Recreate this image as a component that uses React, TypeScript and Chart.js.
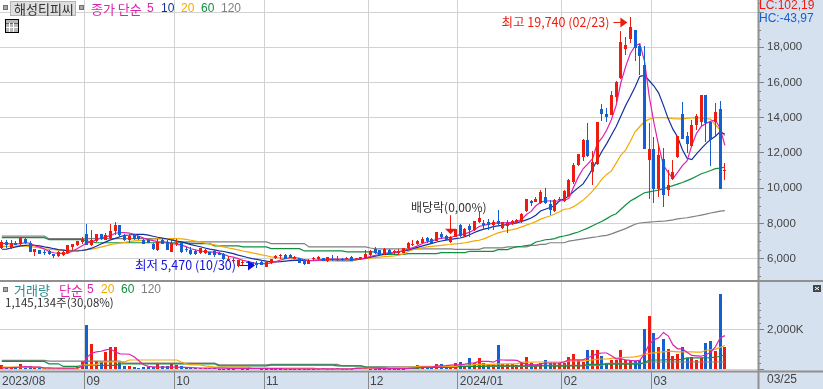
import React, { useEffect, useRef } from "react";
import { Chart, registerables } from "chart.js";

Chart.register(...registerables);

const opens = [
  6620,6940,6620,6900,6850,7130,6910,6380,6470,6380,
  6430,6240,6150,6190,6320,6660,6750,6940,7420,6750,
  7000,7380,7080,7190,7570,7890,7360,7040,7320,7270,
  7040,7040,6850,6470,7080,6940,6380,6850,6890,6570,
  6510,6430,6320,6320,6380,6430,6320,6280,5980,5850,
  5560,5800,5810,5800,5760,5810,5520,5750,6040,6130,
  6220,6220,5990,6020,5940,5710,5990,5960,6020,5850,
  6000,6000,6000,6000,6090,6000,6000,6040,6190,6570,
  6470,6250,6510,6380,6340,6340,6600,6790,6810,6890,
  7170,7130,6980,7420,7270,6930,7230,7890,7270,7830,
  7610,8080,8040,8080,7930,8140,7760,7850,7950,8040,
  8080,8700,9250,9220,9150,9500,9120,8700,9310,9270,
  9540,10350,11300,11770,12760,10920,11350,14520,14200,14140,
  15180,16280,17930,18490,18970,18060,16980,11620,12250,9940,
  11680,9880,10540,11770,14230,12960,12380,13570,13760,15280,
  13760,13760,14520,10980,
];
const highs = [
  7080,7040,7040,7000,7230,7190,7000,6570,6510,6470,
  6510,6280,6430,6430,6750,6850,7000,7230,7950,7640,
  7420,7420,7460,7990,8060,7890,7420,7420,7420,7300,
  7130,7100,6890,7130,7130,7080,7130,7130,6940,6660,
  6660,6500,6600,6570,6400,6470,6350,6320,6150,6020,
  5900,5900,5850,5810,5880,5900,5810,6000,6180,6240,
  6260,6240,6150,6040,6000,5950,6090,6150,6060,6090,
  6190,6130,6040,6100,6130,6040,6110,6470,6510,6660,
  6500,6620,6560,6470,6570,6620,6940,7040,7080,7230,
  7210,7180,7490,7510,7340,7270,7700,7990,7760,7990,
  8150,8650,8170,8270,8170,8750,8080,8210,8210,8250,
  8600,9410,9350,9500,9880,10010,9310,9400,9500,9880,
  10540,11430,11960,12810,13700,12110,13760,14760,14570,15520,
  16090,18930,18590,19740,18970,18210,18060,13700,12910,12530,
  12300,11010,11580,12950,14900,13190,13850,14230,15300,15300,
  13820,14840,14950,11450,
];
const lows = [
  6570,6620,6570,6750,6750,6850,6380,6130,6240,6190,
  6190,6050,6090,6130,6280,6470,6700,6850,6750,6720,
  6940,7040,7040,7130,7320,7230,7000,6910,7040,7040,
  6850,6890,6470,6420,6810,6470,6380,6700,6340,6380,
  6220,6200,6280,6280,6180,6090,6180,5940,5850,5800,
  5520,5560,5750,5580,5470,5610,5500,5700,6000,6000,
  5990,6030,5960,5770,5620,5690,5850,5900,5850,5830,
  5850,5850,5880,5950,5850,5960,5970,6000,6150,6250,
  6230,6190,6280,6250,6230,6300,6550,6700,6750,6810,
  6890,6910,6980,7130,7040,6910,7200,7230,7230,7250,
  7570,8040,7700,7650,7610,7890,7700,7460,7890,8000,
  8040,8650,8970,9200,9100,9120,8460,8650,9220,9220,
  9500,10260,11260,11550,11770,10160,11300,13820,13760,14140,
  14900,16220,17550,18250,17230,16410,12250,9370,9160,9500,
  8930,9540,10480,11730,12810,12000,12350,13300,13550,12620,
  11240,12950,9940,10450,
];
const closes = [
  6940,6750,6890,6750,7190,6910,6380,6570,6280,6320,
  6240,6130,6380,6380,6750,6850,7000,7130,6750,7080,
  7380,7130,7320,7570,7890,7320,7040,7270,7130,7130,
  6850,6890,6550,6940,6850,6510,6890,6890,6380,6470,
  6280,6240,6600,6510,6190,6190,6190,6000,6000,5900,
  5900,5810,5780,5580,5650,5660,5810,6000,6150,6190,
  5990,6030,6090,5770,5680,5900,6040,6070,5850,6070,
  5900,5920,5900,6040,5850,6020,6090,6280,6420,6320,
  6230,6530,6280,6420,6430,6620,6890,6850,7000,7110,
  6980,6910,7490,7230,7040,7230,7700,7270,7700,7600,
  8120,8310,7890,7890,8080,7990,8080,8040,8140,8170,
  8550,9410,9160,9410,9780,9160,8740,9350,9400,9840,
  10450,11300,11920,12720,11810,11490,13740,14230,14050,15280,
  16030,18300,18110,19160,17980,17490,12250,12250,9940,11870,
  9600,10160,10920,12950,12810,12530,13570,14080,15280,13700,
  12720,14330,9940,11050,
];
const volumes = [
  250,100,100,100,300,100,200,100,100,85,
  85,85,85,85,85,100,130,420,2220,1310,
  420,420,870,1160,1160,370,200,200,150,100,
  130,130,130,300,170,170,300,250,200,130,
  130,100,85,80,70,70,60,60,60,60,
  70,60,50,70,80,60,60,60,50,50,
  50,50,50,50,50,50,40,40,70,30,
  30,70,30,30,40,85,85,140,60,50,
  50,50,50,50,60,60,130,130,250,100,
  85,85,300,300,100,200,340,400,200,600,
  340,600,340,300,300,1260,300,300,300,250,
  340,640,340,250,340,470,340,340,340,340,
  640,810,500,370,1010,1010,1010,710,340,500,
  470,1010,470,470,420,470,2020,2690,1860,1160,
  1560,1060,710,810,1160,590,640,500,590,1360,
  1460,960,3780,1145,
];
const ma5 = [
  6860,6850,6840,6830,6850,6900,6870,6730,6650,6540,
  6400,6330,6290,6290,6310,6430,6570,6730,6880,6950,
  7060,7180,7230,7300,7440,7470,7470,7450,7380,7270,
  7160,7080,7020,6960,6950,6930,6850,6820,6760,6680,
  6560,6490,6430,6400,6380,6350,6320,6240,6130,6080,
  6000,5900,5850,5770,5730,5710,5710,5760,5830,5920,
  6000,6050,6060,6020,5930,5880,5880,5900,5940,5970,
  5980,5970,5970,5970,5960,5950,5990,6040,6120,6180,
  6230,6300,6340,6350,6380,6450,6540,6620,6720,6860,
  6950,7000,7090,7160,7180,7200,7290,7360,7400,7500,
  7640,7820,7890,7960,8010,8010,8020,8040,8060,8100,
  8220,8500,8680,9000,9200,9280,9270,9260,9270,9300,
  9430,10060,10640,11100,11380,11670,12530,12850,13300,13900,
  14700,16000,16900,17650,18080,18210,17200,15200,13700,12400,
  11300,10900,10530,10900,11280,11550,12430,13120,13500,13680,
  13800,13880,13400,12430,
];
const ma10 = [
  6530,6540,6600,6660,6720,6750,6770,6750,6720,6660,
  6620,6560,6510,6480,6440,6430,6430,6460,6510,6590,
  6700,6830,6950,7060,7150,7240,7320,7340,7370,7380,
  7370,7330,7270,7210,7160,7110,7050,7000,6950,6880,
  6790,6730,6670,6600,6540,6490,6440,6400,6340,6280,
  6200,6130,6060,6000,5950,5900,5850,5810,5810,5830,
  5860,5880,5900,5900,5890,5890,5900,5920,5930,5940,
  5940,5930,5920,5920,5920,5940,5980,6020,6080,6140,
  6190,6240,6290,6340,6380,6430,6480,6580,6640,6720,
  6790,6860,6940,7000,7050,7090,7130,7170,7250,7350,
  7480,7590,7670,7730,7810,7860,7890,7940,7980,8030,
  8110,8200,8300,8460,8700,8800,8900,9000,9280,9400,
  9560,9800,10030,10240,10650,11100,11600,12100,12530,13020,
  13500,14100,14700,15200,15750,16350,16400,16100,15800,15400,
  14700,13950,13350,12910,12200,11700,11620,11950,12250,12530,
  12760,12950,13200,13060,
];
const ma20 = [
  6680,6690,6700,6710,6720,6700,6680,6650,6600,6550,
  6520,6500,6480,6470,6470,6470,6470,6480,6510,6540,
  6590,6650,6720,6790,6840,6880,6920,6960,7000,7020,
  7040,7070,7100,7120,7130,7140,7140,7130,7120,7090,
  7040,6990,6940,6880,6830,6780,6720,6660,6600,6550,
  6490,6430,6380,6320,6270,6210,6160,6100,6050,6040,
  6010,5990,5970,5950,5930,5910,5900,5890,5880,5870,
  5870,5860,5860,5860,5860,5920,5960,5990,6020,6050,
  6080,6110,6130,6150,6190,6260,6400,6500,6560,6620,
  6660,6690,6720,6750,6780,6800,6830,6860,6900,6950,
  7000,7040,7120,7230,7350,7460,7530,7590,7640,7700,
  7800,7900,7990,8100,8240,8330,8420,8530,8660,8800,
  8830,8950,9130,9320,9560,9830,10150,10530,10780,10980,
  11420,11880,12160,12660,13200,13500,13780,13920,14000,14010,
  14010,13990,13950,13930,13930,13960,13990,14010,13980,13950,
  13920,13600,13300,12980,
];
const ma60 = [
  7190,7190,7190,7190,7190,7190,7190,7190,7190,7190,
  7080,7080,7080,7080,7080,7080,7080,7080,7000,6950,
  6900,6900,6900,6900,6900,6900,6900,6900,6900,6900,
  6900,6900,6900,6900,6900,6900,6900,6900,6900,6900,
  6850,6850,6850,6850,6850,6720,6720,6720,6720,6720,
  6720,6660,6660,6660,6660,6660,6660,6565,6565,6565,
  6565,6565,6565,6565,6433,6433,6433,6433,6433,6433,
  6433,6433,6433,6376,6376,6376,6376,6376,6376,6376,
  6243,6243,6243,6243,6243,6243,6281,6281,6281,6281,
  6281,6281,6281,6338,6338,6338,6338,6338,6338,6414,
  6414,6414,6414,6414,6414,6508,6508,6508,6600,6680,
  6700,6740,6780,6944,7000,7070,7090,7130,7230,7280,
  7350,7430,7510,7620,7730,7860,7990,8120,8270,8430,
  8550,8800,9040,9270,9420,9580,9740,9790,9840,9890,
  9970,10050,10140,10230,10320,10430,10540,10680,10820,10900,
  11000,11110,11140,11200,
];
const ma120 = [
  7270,7270,7270,7270,7270,7270,7270,7270,7270,7270,
  7130,7130,7130,7130,7130,7130,7130,7130,7130,7130,
  7130,7130,7130,7130,7130,7130,7130,7130,7130,7130,
  7130,7130,7130,7130,7130,7130,7130,6944,6944,6944,
  6944,6944,6944,6944,6944,6944,6944,6944,6944,6944,
  6944,6944,6944,6944,6944,6944,6944,6849,6849,6849,
  6849,6849,6849,6849,6849,6660,6660,6660,6660,6660,
  6660,6660,6660,6660,6660,6660,6660,6660,6600,6550,
  6550,6550,6550,6550,6550,6550,6550,6550,6550,6550,
  6550,6550,6550,6550,6550,6550,6527,6527,6527,6527,
  6527,6527,6610,6610,6610,6610,6610,6660,6660,6660,
  6660,6660,6750,6750,6810,6810,6900,6900,6900,6900,
  6990,7030,7077,7120,7160,7200,7240,7290,7320,7400,
  7500,7600,7700,7830,7950,8020,8050,8070,8090,8110,
  8120,8160,8200,8250,8290,8320,8370,8420,8470,8520,
  8590,8640,8690,8720,
];
const vma5 = [
  100,100,110,120,130,160,150,130,130,100,
  100,90,85,85,85,85,90,170,620,830,
  900,930,1000,1040,900,800,790,780,650,450,
  250,170,150,130,130,130,130,130,120,120,
  110,100,90,85,85,85,85,85,70,70,
  70,70,70,70,70,70,70,60,60,55,
  50,50,50,50,50,50,50,50,50,50,
  45,45,50,50,50,70,80,90,90,85,
  70,60,55,55,55,60,70,90,110,130,
  140,140,180,200,210,230,250,250,280,330,
  350,420,420,420,380,500,490,480,480,470,
  350,270,260,250,300,340,340,340,340,400,
  500,500,500,500,600,700,810,840,840,700,
  550,550,500,470,450,470,800,1280,1500,1600,
  1870,1700,1250,1050,1050,880,720,700,680,750,
  880,1150,1600,1710,
];
const vma20 = [
  130,130,130,130,130,130,130,130,130,50,
  50,50,50,50,50,50,50,250,250,250,
  250,400,400,400,400,400,400,490,490,490,
  490,490,490,490,490,490,490,490,390,300,
  250,250,250,200,170,130,130,130,130,130,
  130,130,130,70,70,70,70,85,85,85,
  85,85,85,85,85,85,85,40,40,40,
  40,40,40,40,40,85,85,85,85,85,
  85,85,85,85,120,120,120,120,170,170,
  170,170,170,170,170,170,170,230,230,230,
  270,270,270,270,270,300,300,300,300,300,
  380,380,380,390,390,390,390,390,390,390,
  450,450,450,450,470,500,520,540,540,570,
  590,610,620,630,650,700,770,820,850,880,
  900,920,920,900,900,900,900,880,880,980,
  1000,1020,1120,1230,
];
const vma60 = [
  420,420,420,420,420,420,420,420,420,420,
  300,300,300,170,170,170,170,220,220,220,
  220,220,220,220,220,300,300,300,300,300,
  300,300,300,300,300,300,300,300,300,300,
  300,300,300,300,300,300,200,200,200,200,
  200,200,200,200,200,200,200,235,235,235,
  235,235,235,235,235,235,235,235,235,235,
  235,200,200,200,200,200,200,120,120,120,
  120,120,70,70,70,70,70,70,70,120,
  120,120,120,120,120,120,120,170,170,170,
  170,170,170,200,200,200,200,200,200,200,
  200,200,200,200,200,200,200,185,185,185,
  200,200,200,200,270,270,270,285,285,285,
  285,285,285,285,285,285,360,490,490,490,
  490,510,510,510,510,600,600,600,600,600,
  610,630,680,740,
];
const vma120 = [
  470,470,470,470,470,470,470,470,470,470,
  435,435,435,435,435,435,435,435,435,435,
  435,435,435,435,435,435,335,335,335,335,
  335,335,335,335,335,335,335,335,335,335,
  335,335,335,335,335,335,250,250,250,250,
  250,250,250,250,250,250,250,270,270,270,
  270,270,270,270,270,270,270,270,270,270,
  270,270,200,200,200,200,200,150,150,150,
  150,150,150,150,150,150,150,150,150,150,
  150,150,150,150,150,150,150,170,170,170,
  170,170,170,170,170,170,170,170,170,170,
  170,170,170,170,220,220,220,220,220,220,
  220,220,220,220,220,220,220,220,320,320,
  320,320,320,320,320,320,320,390,390,390,
  390,390,390,390,390,390,390,390,390,390,
  390,390,390,390,
];

const monthTickIndex = [-0.38, 17.5, 36.5, 55.5, 77.5, 96.5, 118.5, 137.5];
const monthTickLabels = ["2023/08", "09", "10", "11", "12", "2024/01", "02", "03"];
const priceTicks = [
  5000, 5500, 6000, 6500, 7000, 7500, 8000, 8500, 9000, 9500, 10000, 10500, 11000, 11500, 12000, 12500,
  13000, 13500, 14000, 14500, 15000, 15500, 16000, 16500, 17000, 17500, 18000, 18500, 19000, 19500, 20000, 20500,
];
const volumeTicks = [0, 2000];
const volumeMinorTicks = [333, 667, 1000, 1333, 2333, 2667, 3000, 3333];

const UP = "#EE1C0E";
const DOWN = "#1560D0";
const LOW_MARK = "#1010E0";
const MA5_C = "#E020B0";
const MA10_C = "#1030A0";
const MA20_C = "#F5A800";
const MA60_C = "#109040";
const MA120_C = "#808080";
const PANEL = "#D6E1F0";
const GRID = "#D2D2D2";
const INK = "#444444";
const LAT = '"Liberation Sans", "Noto Sans CJK KR", sans-serif';
const KR = '"Noto Sans CJK KR", "Liberation Sans", sans-serif';

const xy = (arr: number[]) => arr.map((y, x) => ({ x, y }));
const candleColors = closes.map((c, i) => (c >= opens[i] ? UP : DOWN));

const alignPlugin = {
  id: "align",
  afterDatasetsUpdate(chart: any) {
    chart.data.datasets.forEach((ds: any, di: number) => {
      if (ds.type === "line") return;
      chart.getDatasetMeta(di).data.forEach((el: any) => {
        el.x = Math.floor(el.x) + 0.5;
        el.y = Math.round(el.y);
        el.base = Math.round(el.base);
        if (Math.abs(el.y - el.base) < 1) el.base = el.y + 1;
      });
    });
  },
};

const chromePlugin = {
  id: "chrome",
  beforeDraw(chart: any) {
    const { ctx, width, height, chartArea: a } = chart;
    ctx.save();
    ctx.fillStyle = "#FFFFFF";
    ctx.fillRect(0, 0, width, height);
    ctx.fillStyle = PANEL;
    ctx.fillRect(a.right, 0, width - a.right, height);
    ctx.fillRect(0, a.bottom, width, height - a.bottom);
    ctx.restore();
  },
  afterDraw(chart: any) {
    const { ctx, width, height, chartArea: a, scales } = chart;
    const { x, y, yv } = scales;
    const line = (x1: number, y1: number, x2: number, y2: number, c: string, w = 1) => {
      ctx.strokeStyle = c;
      ctx.lineWidth = w;
      ctx.beginPath();
      ctx.moveTo(x1, y1);
      ctx.lineTo(x2, y2);
      ctx.stroke();
    };
    const txt = (s: string, px: number, py: number, c: string, font: string, align = "left") => {
      ctx.font = font;
      ctx.fillStyle = c;
      ctx.textAlign = align;
      ctx.textBaseline = "middle";
      ctx.fillText(s, px, py);
    };
    const square = (px: number, py: number) => {
      ctx.fillStyle = "#A8A8A8";
      ctx.strokeStyle = "#707070";
      ctx.lineWidth = 1;
      ctx.fillRect(px, py, 5, 5);
      ctx.strokeRect(px + 0.5, py + 0.5, 4, 4);
    };
    ctx.save();

    // minor ticks in the right panel
    priceTicks.forEach((v) => {
      if (v % 2000 !== 0) {
        const p = Math.round(y.getPixelForValue(v)) + 0.5;
        line(a.right, p, a.right + 3, p, "#808080");
      }
    });
    volumeMinorTicks.forEach((v) => {
      const p = Math.round(yv.getPixelForValue(v)) + 0.5;
      line(a.right, p, a.right + 3, p, "#808080");
    });

    // pane frame
    line(a.right + 0.5, 0, a.right + 0.5, height, "#909090", 2);
    line(0, yv.top, width, yv.top, "#909090", 2);
    line(0, a.bottom + 0.5, width, a.bottom + 0.5, "#909090", 2);

    // top legend
    square(3, 5);
    ctx.fillStyle = "#DEDEDE";
    ctx.fillRect(10.5, 1.5, 65, 14);
    ctx.strokeStyle = "#B4B4B4";
    ctx.lineWidth = 1;
    ctx.strokeRect(10.5, 1.5, 65, 14);
    txt("해성티피씨", 14, 9, "#333333", `13px ${KR}`);
    square(79, 5);
    txt("종가 단순", 91, 9, MA5_C, `13px ${KR}`);
    txt("5", 147, 9, MA5_C, `12px ${LAT}`);
    txt("10", 161, 9, MA10_C, `12px ${LAT}`);
    txt("20", 181, 9, MA20_C, `12px ${LAT}`);
    txt("60", 201, 9, MA60_C, `12px ${LAT}`);
    txt("120", 221, 9, MA120_C, `12px ${LAT}`);

    // table icon
    ctx.fillStyle = "#B8B8B8";
    ctx.fillRect(6, 20, 12, 12);
    ctx.strokeStyle = "#000000";
    ctx.strokeRect(5.5, 19.5, 13, 13);
    line(6, 23.5, 18, 23.5, "#666666");
    line(6, 27.5, 18, 27.5, "#FFFFFF");
    line(9.5, 23, 9.5, 32, "#FFFFFF");
    line(13.5, 23, 13.5, 32, "#FFFFFF");

    // right readouts
    txt("LC:102,19", 759, 6, "#EE1C0E", `12px ${LAT}`);
    txt("HC:-43,97", 759, 19, "#1560D0", `12px ${LAT}`);
    txt("03/25", 767, 380, INK, `12px ${LAT}`);

    // volume legend
    square(3, 287);
    txt("거래량", 14, 290, "#2A8C8C", `13px ${KR}`);
    txt("단순", 59, 290, MA5_C, `13px ${KR}`);
    txt("5", 87, 290, MA5_C, `12px ${LAT}`);
    txt("20", 101, 290, MA20_C, `12px ${LAT}`);
    txt("60", 121, 290, MA60_C, `12px ${LAT}`);
    txt("120", 141, 290, MA120_C, `12px ${LAT}`);
    txt("1,145,134주(30,08%)", 5, 303, "#333333", `11.5px ${KR}`);

    // expand icon
    ctx.fillStyle = "#444444";
    ctx.fillRect(813, 285, 8, 7);
    line(815, 287, 819, 290, "#FFFFFF");
    line(819, 287, 815, 290, "#FFFFFF");

    // high marker
    const hiI = highs.indexOf(Math.max(...highs));
    const hx = x.getPixelForValue(hiI) - 3;
    const hy = Math.round(y.getPixelForValue(highs[hiI])) + 5.5;
    line(hx - 14, hy, hx - 4, hy, UP, 1);
    ctx.fillStyle = UP;
    ctx.beginPath();
    ctx.moveTo(hx, hy);
    ctx.lineTo(hx - 7, hy - 5);
    ctx.lineTo(hx - 7, hy + 5);
    ctx.closePath();
    ctx.fill();
    txt("최고 19,740 (02/23)", hx - 18, hy, UP, `12.5px ${KR}`, "right");

    // low marker
    const loI = lows.indexOf(Math.min(...lows));
    const lx = x.getPixelForValue(loI) - 2;
    const ly = Math.round(y.getPixelForValue(lows[loI])) - 2.5;
    line(lx - 15, ly, lx - 4, ly, LOW_MARK, 1);
    ctx.fillStyle = LOW_MARK;
    ctx.beginPath();
    ctx.moveTo(lx, ly);
    ctx.lineTo(lx - 7, ly - 5);
    ctx.lineTo(lx - 7, ly + 5);
    ctx.closePath();
    ctx.fill();
    txt("최저 5,470 (10/30)", lx - 19, ly, LOW_MARK, `12.5px ${KR}`, "right");

    // ex-dividend marker
    const dx = Math.floor(x.getPixelForValue(95)) + 0.5;
    const dy = y.getPixelForValue(highs[95]) - 2;
    line(dx, dy - 19, dx, dy - 4, UP, 1);
    ctx.fillStyle = UP;
    ctx.beginPath();
    ctx.moveTo(dx, dy);
    ctx.lineTo(dx - 5.5, dy - 5.5);
    ctx.lineTo(dx + 5.5, dy - 5.5);
    ctx.closePath();
    ctx.fill();
    txt("배당락(0,00%)", 411, 207, "#333333", `12px ${KR}`);

    ctx.restore();
  },
};

export default function App() {
  const ref = useRef<HTMLCanvasElement | null>(null);
  useEffect(() => {
    if (!ref.current) return;
    const noPad = (s: any) => {
      s.paddingLeft = 0;
      s.paddingRight = 0;
      s.paddingTop = 0;
      s.paddingBottom = 0;
    };
    const maLine = (label: string, data: number[], color: string, yAxisID: string, order: number) => ({
      type: "line" as const,
      label,
      data: xy(data),
      borderColor: color,
      borderWidth: 1.2,
      pointRadius: 0,
      tension: 0,
      yAxisID,
      order,
    });
    const barBase = { type: "bar" as const, borderWidth: 0, inflateAmount: 0, grouped: false };
    const chart = new Chart(ref.current, {
      type: "bar",
      data: {
        datasets: [
          maLine("MA120", ma120, MA120_C, "y", 10),
          maLine("MA60", ma60, MA60_C, "y", 9),
          maLine("MA20", ma20, MA20_C, "y", 8),
          maLine("MA10", ma10, MA10_C, "y", 7),
          maLine("MA5", ma5, MA5_C, "y", 6),
          {
            ...barBase,
            label: "High-Low",
            data: highs.map((h, i) => ({ x: i, y: [lows[i], h] })),
            backgroundColor: candleColors,
            barThickness: 1,
            yAxisID: "y",
            order: 5,
          },
          {
            ...barBase,
            label: "Open-Close",
            data: opens.map((o, i) => ({ x: i, y: [o, closes[i]] })),
            backgroundColor: candleColors,
            barThickness: 3,
            yAxisID: "y",
            order: 4,
          },
          {
            ...barBase,
            label: "Volume",
            data: xy(volumes),
            backgroundColor: candleColors,
            barThickness: 3,
            yAxisID: "yv",
            order: 20,
          },
          maLine("V120", vma120, MA120_C, "yv", 3),
          maLine("V60", vma60, MA60_C, "yv", 2),
          maLine("V20", vma20, MA20_C, "yv", 1),
          maLine("V5", vma5, MA5_C, "yv", 0),
        ] as any,
      },
      options: {
        responsive: false,
        animation: false,
        layout: { padding: 0 },
        plugins: { legend: { display: false }, tooltip: { enabled: false } },
        scales: {
          x: {
            type: "linear",
            offset: false,
            min: -0.38,
            max: 160.01,
            afterBuildTicks: (s: any) => {
              s.ticks = monthTickIndex.map((value) => ({ value }));
            },
            afterFit: (s: any) => {
              s.height = 18;
              noPad(s);
            },
            border: { display: false },
            grid: {
              offset: false,
              color: (c: any) => (c.index === 0 ? "transparent" : GRID),
              tickColor: (c: any) => (c.index === 0 ? "transparent" : "#888888"),
              tickLength: 18,
            },
            ticks: {
              autoSkip: false,
              maxRotation: 0,
              align: "start",
              labelOffset: 2,
              padding: -15,
              color: INK,
              font: { family: LAT, size: 12 },
              callback: (v: any) => monthTickLabels[monthTickIndex.indexOf(v)] ?? "",
            },
          },
          y: {
            type: "linear",
            position: "right",
            stack: "panes",
            stackWeight: 281,
            min: 4726,
            max: 20687,
            afterBuildTicks: (s: any) => {
              s.ticks = priceTicks.map((value) => ({ value }));
            },
            afterFit: (s: any) => {
              s.width = 65;
              noPad(s);
            },
            border: { display: false },
            grid: {
              color: (c: any) => (c.tick.value % 2000 === 0 ? GRID : "transparent"),
              tickColor: (c: any) => (c.tick.value % 2000 === 0 ? "#808080" : "transparent"),
              tickLength: 6,
            },
            ticks: {
              autoSkip: false,
              padding: 3,
              color: INK,
              font: { family: LAT, size: 11.5 },
              callback: (v: any) => (v % 2000 === 0 && v <= 18000 ? Number(v).toLocaleString("en-US") : ""),
            },
          },
          yv: {
            type: "linear",
            position: "right",
            stack: "panes",
            stackWeight: 90,
            min: -60,
            max: 4445,
            afterBuildTicks: (s: any) => {
              s.ticks = volumeTicks.map((value) => ({ value }));
            },
            afterFit: (s: any) => {
              s.width = 65;
              noPad(s);
            },
            border: { display: false },
            grid: { color: GRID, tickColor: "#808080", tickLength: 6 },
            ticks: {
              autoSkip: false,
              padding: 3,
              color: INK,
              font: { family: LAT, size: 11.5 },
              callback: (v: any) => (v === 0 ? "" : `${Number(v).toLocaleString("en-US")}K`),
            },
          },
        } as any,
      },
      plugins: [alignPlugin, chromePlugin] as any,
    });
    return () => chart.destroy();
  }, []);
  return (
    <div style={{ position: "fixed", left: 0, top: 0, width: 823, height: 389 }}>
      <canvas ref={ref} width={823} height={389} style={{ display: "block" }} />
    </div>
  );
}
